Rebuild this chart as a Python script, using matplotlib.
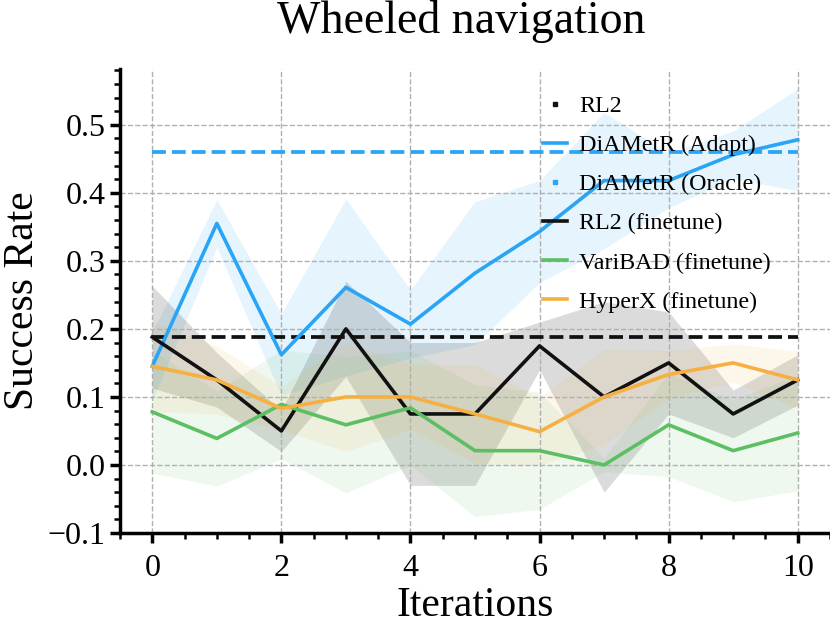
import numpy as np
import matplotlib
matplotlib.use("Agg")
import matplotlib.pyplot as plt
from matplotlib.lines import Line2D
from matplotlib.ticker import MultipleLocator

plt.rcParams["font.family"] = ["Liberation Serif", "DejaVu Serif"]

iterations = np.arange(11)

rl2_level = 0.188
oracle_level = 0.46

adapt_mean = [0.145, 0.355, 0.162, 0.261, 0.207, 0.282, 0.343, 0.418, 0.418, 0.456, 0.478]
adapt_std = [0.05, 0.035, 0.06, 0.13, 0.05, 0.105, 0.075, 0.1, 0.04, 0.035, 0.075]

rl2_ft_mean = [0.188, 0.125, 0.05, 0.2, 0.075, 0.075, 0.175, 0.1, 0.15, 0.075, 0.125]
rl2_ft_std = [0.075, 0.04, 0.03, 0.07, 0.105, 0.105, 0.035, 0.14, 0.075, 0.035, 0.037]

varibad_mean = [0.078, 0.039, 0.089, 0.059, 0.084, 0.021, 0.021, 0.0, 0.059, 0.021, 0.047]
varibad_std = [0.09, 0.07, 0.08, 0.1, 0.084, 0.097, 0.086, 0.01, 0.076, 0.075, 0.085]

hyperx_mean = [0.145, 0.125, 0.083, 0.1, 0.1, 0.075, 0.049, 0.1, 0.133, 0.15, 0.125]
hyperx_std = [0.066, 0.05, 0.032, 0.08, 0.048, 0.072, 0.05, 0.07, 0.035, 0.028, 0.042]

BLUE = "#2aa5f5"
BLACK = "#111111"
GREEN = "#5cbf63"
ORANGE = "#f5b041"

fig = plt.figure(figsize=(8.3, 6.29), dpi=100)
ax = fig.add_axes([120 / 830, 1 - 533 / 629, 710 / 830, 464 / 629])


def band(mean, std, color, alpha):
    mean = np.array(mean)
    std = np.array(std)
    ax.fill_between(iterations, mean - std, mean + std, color=color, alpha=alpha, lw=0)
    ax.plot(iterations, mean, color=color, lw=2.6)


ax.hlines(rl2_level, iterations[0], iterations[-1], colors=BLACK, linestyles="--", lw=2.7)
band(adapt_mean, adapt_std, BLUE, 0.12)
ax.hlines(oracle_level, iterations[0], iterations[-1], colors=BLUE, linestyles="--", lw=2.7)
band(rl2_ft_mean, rl2_ft_std, BLACK, 0.15)
band(varibad_mean, varibad_std, GREEN, 0.1)
band(hyperx_mean, hyperx_std, ORANGE, 0.1)

handles = [
    Line2D([0], [0], color=BLACK, marker="s", ms=3, ls="none"),
    Line2D([0], [0], color=BLUE, lw=2.6),
    Line2D([0], [0], color=BLUE, marker="s", ms=3, ls="none"),
    Line2D([0], [0], color=BLACK, lw=2.6),
    Line2D([0], [0], color=GREEN, lw=2.6),
    Line2D([0], [0], color=ORANGE, lw=2.6),
]
labels = ["RL2", "DiAMetR (Adapt)", "DiAMetR (Oracle)", "RL2 (finetune)",
          "VariBAD (finetune)", "HyperX (finetune)"]
ax.legend(handles, labels, loc="upper right", bbox_to_anchor=(0.947, 0.99),
          frameon=False, fontsize=17.3, handlelength=1.0, handletextpad=0.5,
          labelspacing=0.72)

ax.set_xlim(-0.5, 10.5)
ax.set_ylim(-0.1, 0.582)
ax.xaxis.set_major_locator(MultipleLocator(2))
ax.xaxis.set_minor_locator(MultipleLocator(0.5))
ax.yaxis.set_major_locator(MultipleLocator(0.1))
ax.yaxis.set_minor_locator(MultipleLocator(0.02))
ax.grid(True, which="major", color="#b0b0b0", linestyle="--", lw=1)

for side in ["top", "right"]:
    ax.spines[side].set_visible(False)
for side in ["left", "bottom"]:
    ax.spines[side].set_linewidth(2.5)
ax.tick_params(which="major", direction="out", length=7, width=2.5, labelsize=23)
ax.tick_params(axis="x", which="major", pad=8)
ax.tick_params(which="minor", direction="out", length=4, width=1.8)

ax.set_title("Wheeled navigation", fontsize=33, pad=26, x=0.48)
ax.set_xlabel("Iterations", fontsize=30, labelpad=3)
ax.set_ylabel("Success Rate", fontsize=30, labelpad=4)

fig.savefig("out.png", dpi=100)
